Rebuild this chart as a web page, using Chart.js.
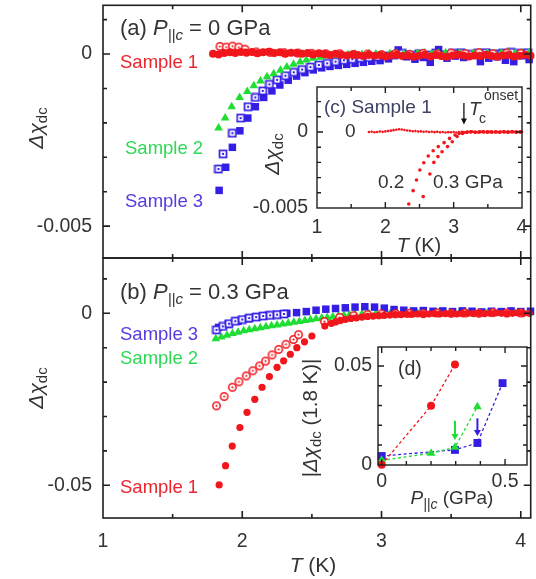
<!DOCTYPE html>
<html>
<head>
<meta charset="utf-8">
<script src="https://cdn.jsdelivr.net/npm/chart.js@4.4.1/dist/chart.umd.min.js"></script>
<style>
html,body{margin:0;padding:0;background:#fff;overflow:hidden;}
#wrap{position:relative;width:536px;height:579px;overflow:hidden;background:#fff;}
#wrap canvas{position:absolute;left:0;top:0;}
</style>
</head>
<body>
<div id="wrap">
<canvas id="cA" width="536" height="579"></canvas>
<canvas id="cB" width="536" height="579"></canvas>
<canvas id="cC" width="536" height="579"></canvas>
<canvas id="cD" width="536" height="579"></canvas>
</div>
<script>
// ---------------- DATA ----------------
// Panel (a): P||c = 0 GPa   [T (K), delta chi_dc]
const A_S1_FILLED = [[1.79,0.00001],[1.83,-0.00001],[1.87,0.00003],[1.91,0.00005],[1.95,0.00003],[1.99,0.00006],[2.03,0.00004],[2.07,0.00006],[2.11,0.00002],[2.15,0.00005],[2.19,0.00007],[2.23,0.00003],[2.27,0.00005],[2.31,0.00001],[2.35,0.00004],[2.39,0.00003],[2.43,0.00001],[2.47,0.00003],[2.51,-0.00001],[2.55,0.00002],[2.59,0],[2.63,-0.00003],[2.67,0.00001],[2.71,-0.00002],[2.75,-0.00004],[2.79,-0.00001],[2.83,-0.00003],[2.87,-0.00006],[2.91,-0.00002],[2.95,-0.00005],[2.99,-0.00003],[3.03,-0.00007],[3.07,-0.00004],[3.11,-0.00002],[3.15,-0.00006],[3.19,-0.00004],[3.23,-0.00008],[3.27,-0.00005],[3.31,-0.00002],[3.35,-0.00007],[3.39,-0.00003],[3.43,-0.00006],[3.47,-0.00008],[3.51,-0.00004],[3.55,-0.00002],[3.59,-0.00005],[3.63,-0.00007],[3.67,-0.00004],[3.71,-0.00006],[3.75,-0.00002],[3.79,-0.00006],[3.83,-0.00008],[3.87,-0.00004],[3.91,-0.00003],[3.95,-0.00007],[3.99,-0.00005],[4.03,-0.00002],[4.07,-0.00005]];
const A_S1_OPEN = [[1.84,0.00022],[1.885,0.0002],[1.93,0.00023],[1.975,0.0002],[2.02,0.00014],[2.1,0.00006],[2.2,0.00005],[2.3,0.00004],[2.4,0.00003],[2.5,0.00002],[2.6,0.00001],[2.7,0.00001],[2.8,-0.00001],[2.9,0],[3.0,-0.00002],[3.1,0.00001],[3.2,-0.00001],[3.3,0.00002],[3.4,0],[3.5,0.00003],[3.6,0.00001],[3.7,0.00004],[3.8,0.00001],[3.9,0.00003],[4.0,0.00002]];
const A_S2 = [[1.83,-0.00215],[1.877,-0.00186],[1.924,-0.00153],[1.981,-0.00126],[2.036,-0.00109],[2.083,-0.00092],[2.131,-0.00078],[2.178,-0.00066],[2.226,-0.00057],[2.274,-0.00047],[2.32,-0.00038],[2.368,-0.0003],[2.416,-0.00023],[2.46,-0.00017],[2.51,-0.00012],[2.56,-0.00009],[2.61,-0.00006],[2.66,-0.00004],[2.71,-0.00003],[2.76,-0.00002],[2.81,0],[2.86,-0.00001],[2.91,0.00001],[2.96,0],[3.01,-0.00002],[3.06,0.00001],[3.11,0.00002],[3.16,0],[3.21,-0.00001],[3.26,0.00002],[3.31,0.00003],[3.36,0.00001],[3.41,0.00002],[3.46,0.00004],[3.51,0.00001],[3.56,0.00003],[3.61,0.00001],[3.66,0.00002],[3.71,0.00004],[3.76,0.00002],[3.81,0.00001],[3.86,0.00003],[3.91,0.00004],[3.96,0.00002],[4.01,0.00003],[4.06,0.00004]];
const A_S3_OPEN = [[1.829,-0.00334],[1.862,-0.0029],[1.929,-0.0023],[1.988,-0.00186],[2.042,-0.00153],[2.094,-0.00126],[2.147,-0.00107],[2.195,-0.00088],[2.25,-0.00075],[2.31,-0.00063],[2.37,-0.00053],[2.43,-0.00045],[2.49,-0.00038],[2.55,-0.00032],[2.61,-0.00027],[2.67,-0.00022],[2.73,-0.00018],[2.79,-0.00015],[2.85,-0.00012],[2.91,-0.0001],[2.97,-0.00008],[3.03,-0.00006],[3.09,-0.00003],[3.15,0.00002],[3.21,-0.00004],[3.27,0.00001],[3.33,-0.00003],[3.39,0.00003],[3.45,-0.00002],[3.51,0.00002],[3.57,0.00004],[3.63,-0.00001],[3.69,0.00002],[3.75,0.00004],[3.81,0.00001],[3.87,0.00003],[3.93,0.00005],[3.99,0.00002],[4.05,0.00004]];
const A_S3_FILLED = [[1.834,-0.00396],[1.881,-0.00329],[1.929,-0.00271],[1.983,-0.00223],[2.04,-0.00186],[2.094,-0.00153],[2.154,-0.00126],[2.213,-0.00107],[2.27,-0.0009],[2.33,-0.00076],[2.39,-0.00064],[2.45,-0.00054],[2.51,-0.00046],[2.57,-0.0004],[2.63,-0.00036],[2.69,-0.00033],[2.75,-0.0003],[2.81,-0.00027],[2.87,-0.00024],[2.93,-0.00021],[2.99,-0.00019],[3.05,-0.00014],[3.12,0.00012],[3.18,-0.00008],[3.24,-0.00015],[3.3,-0.0001],[3.35,-0.00024],[3.41,0.00013],[3.47,-0.00012],[3.53,-0.00006],[3.59,-0.0001],[3.65,-0.00004],[3.71,-0.00022],[3.77,-0.00012],[3.83,-0.00008],[3.89,-0.00018],[3.95,-0.00022],[4.01,-0.00005],[4.06,-0.00016]];

// Panel (b): P||c = 0.3 GPa
const B_S1_FILLED = [[1.834,-0.0499],[1.88,-0.0443],[1.928,-0.0386],[1.983,-0.0332],[2.034,-0.0288],[2.09,-0.025],[2.142,-0.0215],[2.195,-0.0184],[2.25,-0.0157],[2.297,-0.0138],[2.345,-0.0119],[2.392,-0.01],[2.447,-0.0083],[2.5,-0.0066],[2.593,-0.0037],[2.64,-0.0029],[2.67,-0.0025],[2.705,-0.0021],[2.74,-0.0018],[2.78,-0.0015],[2.82,-0.0013],[2.86,-0.0011],[2.9,-0.0009],[2.94,-0.0008],[2.98,-0.0007],[3.02,-0.0006],[3.06,-0.0005],[3.1,-0.0004],[3.14,-0.0004],[3.18,-0.0003],[3.22,-0.0003],[3.26,-0.0002],[3.3,-0.0003],[3.34,-0.0002],[3.38,-0.0001],[3.42,-0.0002],[3.46,-0.0001],[3.5,-0.0001],[3.54,-0.0002],[3.58,-0.0001],[3.62,0],[3.66,-0.0001],[3.7,0],[3.74,-0.0001],[3.78,0],[3.82,0.0001],[3.86,0],[3.9,-0.0001],[3.94,0],[3.98,0.0001],[4.02,0],[4.06,0]];
const B_S1_OPEN = [[1.815,-0.0269],[1.87,-0.0242],[1.929,-0.0215],[1.976,-0.0199],[2.029,-0.0182],[2.076,-0.0167],[2.124,-0.0153],[2.167,-0.0139],[2.214,-0.0121],[2.262,-0.0105],[2.314,-0.009],[2.368,-0.0076],[2.404,-0.0062],[2.59,-0.0024],[2.7,-0.0012],[2.8,-0.0007],[2.9,-0.0004],[3.0,-0.0002],[3.1,-0.0001],[3.2,0],[3.3,-0.0001],[3.4,0.0001],[3.5,0],[3.6,0.0001],[3.7,0],[3.8,0.0002],[3.9,0.0001],[4.0,0.0001]];
const B_S2 = [[1.81,-0.0074],[1.85,-0.0069],[1.89,-0.0064],[1.93,-0.0059],[1.97,-0.0055],[2.01,-0.0051],[2.05,-0.0048],[2.09,-0.0045],[2.13,-0.0042],[2.17,-0.0039],[2.21,-0.0036],[2.25,-0.0034],[2.29,-0.0031],[2.33,-0.0029],[2.37,-0.0026],[2.41,-0.0024],[2.45,-0.0021],[2.49,-0.0019],[2.53,-0.0016],[2.57,-0.0014],[2.61,-0.0012],[2.65,-0.001],[2.69,-0.0008],[2.73,-0.0006],[2.77,-0.0004],[2.81,-0.0003],[2.86,-0.0002],[2.91,-0.0001],[2.96,-0.0001],[3.01,0],[3.06,-0.0001],[3.11,0],[3.16,0.0001],[3.21,0],[3.26,0],[3.31,-0.0001],[3.36,0],[3.41,0.0001],[3.46,0],[3.51,0],[3.56,0.0001],[3.61,0],[3.66,-0.0001],[3.71,0],[3.76,0.0001],[3.81,0],[3.86,0],[3.91,0.0001],[3.96,0],[4.01,0],[4.06,0.0001]];
const B_S3_OPEN = [[1.815,-0.0048],[1.86,-0.0038],[1.905,-0.003],[1.95,-0.0023],[2.0,-0.0018],[2.05,-0.0014],[2.1,-0.0011],[2.15,-0.0008],[2.2,-0.0006],[2.25,-0.0004],[2.3,-0.0002]];
const B_S3_FILLED = [[1.83,-0.0041],[1.9,-0.0031],[1.97,-0.0023],[2.04,-0.0016],[2.11,-0.001],[2.18,-0.0006],[2.25,-0.0003],[2.32,0],[2.39,0.0002],[2.46,0.0005],[2.53,0.0009],[2.6,0.0012],[2.67,0.0014],[2.74,0.0016],[2.81,0.0018],[2.88,0.0019],[2.95,0.0018],[3.02,0.0015],[3.09,0.0011],[3.16,0.0009],[3.23,0.0007],[3.3,0.0008],[3.37,0.0006],[3.44,0.0007],[3.51,0.0005],[3.58,0.0007],[3.65,0.0006],[3.72,0.0004],[3.79,0.0006],[3.86,0.0005],[3.93,0.0007],[4.0,0.0005],[4.07,0.0006]];

// Inset (c): Sample 1 at 0, 0.2, 0.3 GPa
const C_P00 = [[1.76,0],[1.8,0.00002],[1.84,-0.00002],[1.88,0],[1.92,0.00003],[1.96,0.00001],[2.0,0.00004],[2.04,0.00006],[2.08,0.00009],[2.12,0.00012],[2.16,0.00015],[2.2,0.00018],[2.24,0.00016],[2.28,0.00013],[2.32,0.0001],[2.36,0.00008],[2.4,0.00005],[2.44,0.00006],[2.48,0.00003],[2.52,0.00004],[2.56,0.00001],[2.6,0.00003],[2.64,0],[2.68,0.00002],[2.72,-0.00001],[2.76,0.00001],[2.8,-0.00002],[2.84,0],[2.88,-0.00003],[2.92,-0.00001],[2.96,-0.00002],[3.0,0],[3.04,-0.00003],[3.08,-0.00001],[3.12,0.00002],[3.16,-0.00002],[3.2,0.00001],[3.24,-0.00001],[3.28,0.00002],[3.32,0],[3.36,-0.00002],[3.4,0.00001],[3.44,0.00003],[3.48,0],[3.52,-0.00001],[3.56,0.00002],[3.6,0],[3.64,-0.00002],[3.68,0.00001],[3.72,0.00002],[3.76,-0.00001],[3.8,0.00001],[3.84,0],[3.88,0.00002],[3.92,-0.00001],[3.96,0.00001],[4.0,0]];
const C_P02 = [[2.343,-0.00474],[2.407,-0.00386],[2.456,-0.00316],[2.505,-0.0025],[2.563,-0.00202],[2.628,-0.00158],[2.7,-0.00123],[2.775,-0.00096],[2.86,-0.0007],[2.94,-0.00042],[3.02,-0.0002],[3.08,-0.0001],[3.14,-0.00004],[3.2,0],[3.26,0.00002],[3.32,-0.00002],[3.38,0.00001],[3.44,0],[3.5,0.00002],[3.56,-0.00001],[3.62,0.00001],[3.68,0],[3.74,0.00002],[3.8,-0.00001],[3.86,0.00001],[3.92,0],[3.98,0.00001]];
const C_P03 = [[2.554,-0.00425],[2.652,-0.00276],[2.71,-0.002],[2.77,-0.00162],[2.83,-0.0013],[2.91,-0.00096],[2.98,-0.00064],[3.05,-0.0003],[3.13,-0.0001],[3.19,-0.00003],[3.25,0.00001],[3.31,-0.00002],[3.37,0],[3.43,0.00002],[3.49,-0.00001],[3.55,0.00001],[3.61,0],[3.67,-0.00002],[3.73,0.00001],[3.79,0],[3.85,0.00002],[3.91,-0.00001],[3.97,0]];

// Inset (d): |delta chi_dc (1.8 K)| vs P||c (GPa)
const D_S1 = [[0,0],[0.2,0.0298],[0.297,0.0507]];
const D_S2 = [[0,0.0022],[0.2,0.0058],[0.297,0.0088],[0.388,0.0294]];
const D_S3 = [[0,0.0044],[0.297,0.0075],[0.388,0.011],[0.49,0.0413]];

// tick labels
const T_TICKS = [1, 2, 3, 4], T_LABELS = ['1', '2', '3', '4'];
const A_Y_TICKS = [0, -0.005], A_Y_LABELS = ['0', '-0.005'];
const B_Y_TICKS = [0, -0.05], B_Y_LABELS = ['0', '-0.05'];
const C_Y_TICKS = [0, -0.005], C_Y_LABELS = ['0', '-0.005'];
const D_X_TICKS = [0, 0.5], D_X_LABELS = ['0', '0.5'];
const D_Y_TICKS = [0, 0.05], D_Y_LABELS = ['0', '0.05'];

// ---------------- STYLE ----------------
const FONT = '"Liberation Sans", Arial, Helvetica, sans-serif';
Chart.defaults.font.family = FONT;
Chart.defaults.font.size = 19.5;
Chart.defaults.color = '#333';
const RED = 'rgb(240,22,28)', GREEN = 'rgb(30,222,52)', BLUE = 'rgb(52,30,228)';
const S1C = 'rgb(236,36,46)', S2C = 'rgb(48,216,86)', S3C = 'rgb(84,60,222)';
const PI = Math.PI;

function circDot(color) {
  const c = document.createElement('canvas'); c.width = c.height = 11;
  const g = c.getContext('2d');
  g.beginPath(); g.arc(5.5, 5.5, 3.7, 0, 2 * PI); g.fillStyle = '#fff'; g.fill();
  g.lineWidth = 1.5; g.strokeStyle = color; g.stroke();
  g.beginPath(); g.arc(5.5, 5.5, 1.1, 0, 2 * PI); g.fillStyle = color; g.fill();
  return c;
}
function sqDot(color) {
  const c = document.createElement('canvas'); c.width = c.height = 10;
  const g = c.getContext('2d');
  g.fillStyle = '#fff'; g.fillRect(1.5, 1.5, 7, 7);
  g.lineWidth = 1.7; g.strokeStyle = color; g.strokeRect(1.5, 1.5, 7, 7);
  g.fillStyle = color; g.fillRect(4, 4, 2, 2);
  return c;
}
const CIRC_DOT = circDot(RED), SQ_DOT = sqDot(BLUE);

function pts(arr) { return arr.map(p => ({x: p[0], y: p[1]})); }
function labeler(ticks, labels) {
  return v => { for (let i = 0; i < ticks.length; i++) if (Math.abs(v - ticks[i]) < 1e-9) return labels[i]; return ''; };
}
function fontStr(p, base) { return (p.it ? 'italic ' : '') + (p.s || base) + 'px ' + FONT; }
function drawRich(ctx, it) {
  const base = it.size || 18.5;
  ctx.save();
  ctx.translate(it.x, it.y);
  if (it.rot) ctx.rotate(it.rot);
  const ws = [];
  let w = 0;
  it.parts.forEach(p => { ctx.font = fontStr(p, base); const m = ctx.measureText(p.t).width; ws.push(m); w += m + (p.dx || 0); });
  let cx = it.align === 'center' ? -w / 2 : (it.align === 'right' ? -w : 0);
  ctx.textBaseline = 'alphabetic';
  it.parts.forEach((p, i) => {
    ctx.font = fontStr(p, base);
    ctx.fillStyle = p.c || it.color || '#333';
    cx += (p.dx || 0);
    ctx.fillText(p.t, cx, p.dy || 0);
    cx += ws[i];
  });
  ctx.restore();
}

function framePlugin(f) {
  return {
    id: 'frame',
    beforeDatasetsDraw(chart) {
      if (!f.fill) return;
      const a = chart.chartArea, ctx = chart.ctx;
      ctx.save(); ctx.fillStyle = '#fff';
      ctx.fillRect(a.left, a.top, a.right - a.left, a.bottom - a.top);
      ctx.restore();
    },
    afterDatasetsDraw(chart) {
      const a = chart.chartArea, ctx = chart.ctx, xs = chart.scales.x, ys = chart.scales.y;
      const isMaj = (list, v) => list.some(m => Math.abs(m - v) < 1e-9);
      ctx.save();
      ctx.strokeStyle = '#1e1e1e'; ctx.lineWidth = f.lw;
      ctx.beginPath();
      xs.ticks.forEach(t => {
        const p = xs.getPixelForValue(t.value);
        if (p <= a.left + 1 || p >= a.right - 1) return;
        const L = isMaj(f.xMajor, t.value) ? f.major : f.minor;
        ctx.moveTo(p, a.bottom); ctx.lineTo(p, a.bottom - L);
        ctx.moveTo(p, a.top); ctx.lineTo(p, a.top + L);
      });
      ys.ticks.forEach(t => {
        const p = ys.getPixelForValue(t.value);
        if (p <= a.top + 1 || p >= a.bottom - 1) return;
        const L = isMaj(f.yMajor, t.value) ? f.major : f.minor;
        ctx.moveTo(a.left, p); ctx.lineTo(a.left + L, p);
        ctx.moveTo(a.right, p); ctx.lineTo(a.right - L, p);
      });
      ctx.stroke();
      ctx.strokeRect(a.left, a.top, a.right - a.left, a.bottom - a.top);
      ctx.restore();
    }
  };
}
function notesPlugin(items, arrows) {
  return {
    id: 'notes',
    afterDraw(chart) {
      const ctx = chart.ctx;
      (arrows || []).forEach(ar => {
        const x = chart.scales.x.getPixelForValue(ar.x);
        const y1 = chart.scales.y.getPixelForValue(ar.from), y2 = chart.scales.y.getPixelForValue(ar.to);
        ctx.save(); ctx.strokeStyle = ar.color; ctx.fillStyle = ar.color; ctx.lineWidth = ar.lw;
        ctx.beginPath(); ctx.moveTo(x, y1); ctx.lineTo(x, y2 - ar.head + 1); ctx.stroke();
        ctx.beginPath(); ctx.moveTo(x - ar.hw, y2 - ar.head); ctx.lineTo(x + ar.hw, y2 - ar.head); ctx.lineTo(x, y2); ctx.closePath(); ctx.fill();
        ctx.restore();
      });
      items.forEach(it => drawRich(ctx, it));
    }
  };
}

function scatterSet(data, style) {
  return Object.assign({
    data: pts(data), showLine: false, clip: false,
    pointBorderWidth: 0, pointHoverRadius: 0
  }, style);
}

function makeChart(id, c) {
  return new Chart(document.getElementById(id), {
    type: 'scatter',
    data: { datasets: c.datasets },
    options: {
      responsive: false, animation: false, events: [],
      layout: { padding: c.padding },
      plugins: { legend: { display: false }, tooltip: { enabled: false } },
      scales: {
        x: {
          type: 'linear', min: c.x.min, max: c.x.max,
          grid: { display: false, drawTicks: false }, border: { display: false },
          ticks: { display: c.x.show, stepSize: c.x.step, includeBounds: false, autoSkip: false, maxRotation: 0, padding: c.x.pad,
                   callback: labeler(c.x.ticks, c.x.labels) },
          afterFit: s => { s.height = c.x.h; s.paddingLeft = 0; s.paddingRight = 0; }
        },
        y: {
          type: 'linear', min: c.y.min, max: c.y.max,
          grid: { display: false, drawTicks: false }, border: { display: false },
          ticks: { display: true, stepSize: c.y.step, includeBounds: false, autoSkip: false, padding: c.y.pad,
                   callback: labeler(c.y.ticks, c.y.labels) },
          afterFit: s => { s.width = c.y.w; s.paddingTop = 0; s.paddingBottom = 0; }
        }
      }
    },
    plugins: [framePlugin(c.frame), notesPlugin(c.notes, c.arrows)]
  });
}

const YT_MAIN = [{t: 'Δχ', it: 1}, {t: 'dc', s: 15, dy: 4}];

// ---------------- PANEL (a) ----------------
makeChart('cA', {
  padding: { left: 0, top: 4, right: 2, bottom: 321 },
  x: { min: 1, max: 4.0713, step: 0.5, show: false, pad: 0, h: 0, ticks: T_TICKS, labels: T_LABELS },
  y: { min: -0.005925, max: 0.001416, step: 0.001, pad: 11, w: 103, ticks: A_Y_TICKS, labels: A_Y_LABELS },
  frame: { lw: 1.6, major: 7, minor: 4, xMajor: T_TICKS, yMajor: A_Y_TICKS },
  datasets: [
    scatterSet(A_S1_FILLED, { pointStyle: 'circle', pointRadius: 4, pointBackgroundColor: RED }),
    scatterSet(A_S1_OPEN, { pointStyle: CIRC_DOT, pointRadius: 4 }),
    scatterSet(A_S2, { pointStyle: 'triangle', pointRadius: 5, pointBackgroundColor: GREEN }),
    scatterSet(A_S3_OPEN, { pointStyle: SQ_DOT, pointRadius: 4 }),
    scatterSet(A_S3_FILLED, { pointStyle: 'rect', pointRadius: 5.3, pointBackgroundColor: BLUE })
  ],
  notes: [
    { x: 120, y: 35, size: 22, parts: [{t: '(a) '}, {t: 'P', it: 1}, {t: '||c', it: 1, s: 15, dy: 5}, {t: ' = 0 GPa'}] },
    { x: 43, y: 128, size: 21, rot: -PI / 2, align: 'center', parts: YT_MAIN },
    { x: 120, y: 68, color: S1C, parts: [{t: 'Sample 1'}] },
    { x: 125, y: 154, color: S2C, parts: [{t: 'Sample 2'}] },
    { x: 125, y: 207, color: S3C, parts: [{t: 'Sample 3'}] }
  ]
});

// ---------------- PANEL (b) ----------------
makeChart('cB', {
  padding: { left: 0, top: 258, right: 2, bottom: 0 },
  x: { min: 1, max: 4.0713, step: 0.5, show: true, pad: 12, h: 61, ticks: T_TICKS, labels: T_LABELS },
  y: { min: -0.05951, max: 0.01608, step: 0.01, pad: 11, w: 103, ticks: B_Y_TICKS, labels: B_Y_LABELS },
  frame: { lw: 1.6, major: 7, minor: 4, xMajor: T_TICKS, yMajor: B_Y_TICKS },
  datasets: [
    scatterSet(B_S1_FILLED, { pointStyle: 'circle', pointRadius: 3.6, pointBackgroundColor: RED }),
    scatterSet(B_S1_OPEN, { pointStyle: CIRC_DOT, pointRadius: 4 }),
    scatterSet(B_S3_OPEN, { pointStyle: SQ_DOT, pointRadius: 4 }),
    scatterSet(B_S3_FILLED, { pointStyle: 'rect', pointRadius: 5.3, pointBackgroundColor: BLUE }),
    scatterSet(B_S2, { pointStyle: 'triangle', pointRadius: 5, pointBackgroundColor: GREEN })
  ],
  notes: [
    { x: 120, y: 299, size: 22, parts: [{t: '(b) '}, {t: 'P', it: 1}, {t: '||c', it: 1, s: 15, dy: 5}, {t: ' = 0.3 GPa'}] },
    { x: 43, y: 388, size: 21, rot: -PI / 2, align: 'center', parts: YT_MAIN },
    { x: 120, y: 340, color: S3C, parts: [{t: 'Sample 3'}] },
    { x: 120, y: 364, color: S2C, parts: [{t: 'Sample 2'}] },
    { x: 120, y: 493, color: S1C, parts: [{t: 'Sample 1'}] },
    { x: 313, y: 572, size: 21, align: 'center', parts: [{t: 'T', it: 1}, {t: ' (K)'}] }
  ]
});

// ---------------- INSET (c) ----------------
makeChart('cC', {
  padding: { left: 0, top: 87, right: 14, bottom: 341 },
  x: { min: 1, max: 4, step: 0.5, show: true, pad: 8, h: 30, ticks: T_TICKS, labels: T_LABELS },
  y: { min: -0.005, max: 0.00296, step: 0.001, pad: 9, w: 317, ticks: C_Y_TICKS, labels: C_Y_LABELS },
  frame: { fill: true, lw: 1.4, major: 6, minor: 4, xMajor: T_TICKS, yMajor: C_Y_TICKS },
  datasets: [
    scatterSet(C_P00, { pointStyle: 'circle', pointRadius: 1.3, pointBackgroundColor: RED }),
    scatterSet(C_P02, { pointStyle: 'circle', pointRadius: 1.8, pointBackgroundColor: RED }),
    scatterSet(C_P03, { pointStyle: 'circle', pointRadius: 1.8, pointBackgroundColor: RED })
  ],
  notes: [
    { x: 324, y: 113, size: 19, color: '#3c4262', parts: [{t: '(c) Sample 1'}] },
    { x: 279, y: 154, size: 21, rot: -PI / 2, align: 'center', parts: YT_MAIN },
    { x: 345, y: 137, size: 19, parts: [{t: '0'}] },
    { x: 378, y: 188, size: 19, parts: [{t: '0.2'}] },
    { x: 433, y: 188, size: 19, parts: [{t: '0.3 GPa'}] },
    { x: 469, y: 115, size: 19, parts: [{t: 'T', it: 1}] },
    { x: 479, y: 123, parts: [{t: 'c', s: 14}] },
    { x: 484, y: 100, parts: [{t: 'onset', s: 14}] },
    { x: 419, y: 252, size: 20, align: 'center', parts: [{t: 'T', it: 1}, {t: ' (K)'}] }
  ],
  arrows: [{ x: 3.15, from: 0.0019, to: 0.0005, color: '#111', lw: 1.3, head: 6, hw: 3 }]
});

// ---------------- INSET (d) ----------------
makeChart('cD', {
  padding: { left: 0, top: 347, right: 9, bottom: 84 },
  x: { min: -0.015, max: 0.589, step: 0.1, show: true, pad: 5, h: 30, ticks: D_X_TICKS, labels: D_X_LABELS },
  y: { min: -0.00015, max: 0.0596, step: 0.01, pad: 6, w: 378, ticks: D_Y_TICKS, labels: D_Y_LABELS },
  frame: { fill: true, lw: 1.4, major: 6, minor: 4, xMajor: D_X_TICKS, yMajor: D_Y_TICKS },
  datasets: [
    scatterSet(D_S1, { showLine: true, borderColor: RED, borderWidth: 1.3, borderDash: [3, 2.5], pointStyle: 'circle', pointRadius: 4, pointBackgroundColor: RED }),
    scatterSet(D_S2, { showLine: true, borderColor: GREEN, borderWidth: 1.3, borderDash: [3, 2.5], pointStyle: 'triangle', pointRadius: 5, pointBackgroundColor: GREEN }),
    scatterSet(D_S3, { showLine: true, borderColor: BLUE, borderWidth: 1.3, borderDash: [3, 2.5], pointStyle: 'rect', pointRadius: 5.6, pointBackgroundColor: BLUE })
  ],
  notes: [
    { x: 398, y: 375, size: 19.5, parts: [{t: '(d)'}] },
    { x: 317, y: 418, size: 20.5, rot: -PI / 2, align: 'center', parts: [{t: '|'}, {t: 'Δχ', it: 1}, {t: 'dc', s: 15, dy: 4}, {t: ' (1.8 K)|'}] },
    { x: 452, y: 504, size: 19, align: 'center', parts: [{t: 'P', it: 1}, {t: '||c', it: 1, s: 14, dy: 5}, {t: ' (GPa)'}] }
  ],
  arrows: [
    { x: 0.297, from: 0.0222, to: 0.0125, color: GREEN, lw: 2, head: 6, hw: 3.5 },
    { x: 0.388, from: 0.0235, to: 0.0145, color: BLUE, lw: 2, head: 6, hw: 3.5 }
  ]
});
</script>
</body>
</html>
